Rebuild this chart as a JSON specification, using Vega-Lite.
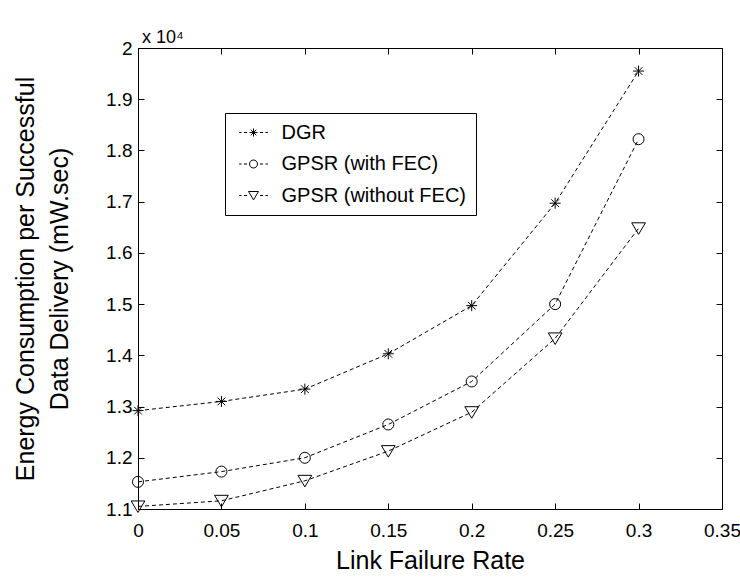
{
  "$schema": "https://vega.github.io/schema/vega-lite/v6.json",
  "width": 584,
  "height": 461,
  "autosize": "none",
  "padding": {"left": 138, "top": 48, "right": 18, "bottom": 69},
  "background": "white",
  "config": {
    "view": {"stroke": "black", "strokeWidth": 1},
    "font": "Liberation Sans",
    "axis": {
      "grid": false,
      "domain": false,
      "tickColor": "black",
      "tickSize": -6,
      "tickWidth": 1,
      "labelColor": "black",
      "titleColor": "black",
      "labelFont": "Liberation Sans",
      "labelFontSize": 19,
      "titleFont": "Liberation Sans",
      "titleFontWeight": "normal",
      "titleFontSize": 25
    }
  },
  "title": {
    "text": "x 10⁴",
    "anchor": "start",
    "frame": "group",
    "fontSize": 18,
    "fontWeight": "normal",
    "font": "Liberation Sans",
    "baseline": "alphabetic",
    "offset": -22,
    "dx": 4,
    "color": "black"
  },
  "data": {
    "values": [
      {"rate": 0, "energy": 12920, "series": "DGR"},
      {"rate": 0.05, "energy": 13100, "series": "DGR"},
      {"rate": 0.1, "energy": 13340, "series": "DGR"},
      {"rate": 0.15, "energy": 14030, "series": "DGR"},
      {"rate": 0.2, "energy": 14970, "series": "DGR"},
      {"rate": 0.25, "energy": 16970, "series": "DGR"},
      {"rate": 0.3, "energy": 19550, "series": "DGR"},
      {"rate": 0, "energy": 11530, "series": "GPSR (with FEC)"},
      {"rate": 0.05, "energy": 11730, "series": "GPSR (with FEC)"},
      {"rate": 0.1, "energy": 12000, "series": "GPSR (with FEC)"},
      {"rate": 0.15, "energy": 12650, "series": "GPSR (with FEC)"},
      {"rate": 0.2, "energy": 13490, "series": "GPSR (with FEC)"},
      {"rate": 0.25, "energy": 15000, "series": "GPSR (with FEC)"},
      {"rate": 0.3, "energy": 18220, "series": "GPSR (with FEC)"},
      {"rate": 0, "energy": 11050, "series": "GPSR (without FEC)"},
      {"rate": 0.05, "energy": 11160, "series": "GPSR (without FEC)"},
      {"rate": 0.1, "energy": 11550, "series": "GPSR (without FEC)"},
      {"rate": 0.15, "energy": 12130, "series": "GPSR (without FEC)"},
      {"rate": 0.2, "energy": 12890, "series": "GPSR (without FEC)"},
      {"rate": 0.25, "energy": 14330, "series": "GPSR (without FEC)"},
      {"rate": 0.3, "energy": 16480, "series": "GPSR (without FEC)"}
    ]
  },
  "layer": [
    {
      "mark": {"type": "line", "strokeDash": [4, 3], "strokeWidth": 1, "color": "black"},
      "encoding": {
        "x": {
          "field": "rate", "type": "quantitative",
          "scale": {"domain": [0, 0.35], "nice": false, "zero": false},
          "axis": {
            "orient": "bottom",
            "values": [0, 0.05, 0.1, 0.15, 0.2, 0.25, 0.3, 0.35],
            "labelExpr": "format(datum.value, '~g')",
            "labelPadding": 18,
            "labelFlush": false,
            "labelOverlap": false,
            "title": "Link Failure Rate",
            "titleY": 39
          }
        },
        "y": {
          "field": "energy", "type": "quantitative",
          "scale": {"domain": [11000, 20000], "nice": false, "zero": false},
          "axis": {
            "orient": "left",
            "values": [11000, 12000, 13000, 14000, 15000, 16000, 17000, 18000, 19000, 20000],
            "labelExpr": "format(datum.value / 10000, '~g')",
            "labelPadding": 12,
            "labelFlush": false,
            "labelOverlap": false,
            "title": ["Energy Consumption per Successful", "Data Delivery (mW.sec)"],
            "titleLineHeight": 34,
            "titleX": -100
          }
        },
        "detail": {"field": "series", "type": "nominal"}
      }
    },
    {
      "mark": {"type": "point", "filled": false, "color": "black", "strokeWidth": 1, "size": 121, "opacity": 1},
      "encoding": {
        "x": {"field": "rate", "type": "quantitative", "axis": null},
        "y": {"field": "energy", "type": "quantitative", "axis": null},
        "shape": {
          "field": "series", "type": "nominal",
          "scale": {
            "domain": ["DGR", "GPSR (with FEC)", "GPSR (without FEC)"],
            "range": [
              "M-1,0L1,0M0,-1L0,1M-0.7,-0.7L0.7,0.7M-0.7,0.7L0.7,-0.7",
              "circle",
              "M-1.25,-1L1.25,-1L0,1.1Z"
            ]
          },
          "legend": null
        }
      }
    },
    {
      "mark": {"type": "point", "filled": false, "color": "black", "opacity": 0},
      "encoding": {
        "x": {"field": "rate", "type": "quantitative", "axis": null},
        "y": {"field": "energy", "type": "quantitative", "axis": null},
        "shape": {
          "field": "series", "type": "nominal",
          "scale": {
            "domain": ["DGR", "GPSR (with FEC)", "GPSR (without FEC)"],
            "range": [
              "M-3.6,0L-3,0M-2.4,0L-1.6,0M1.6,0L2.4,0M3,0L3.6,0M-1,0L1,0M0,-1L0,1M-0.7,-0.7L0.7,0.7M-0.7,0.7L0.7,-0.7",
              "M-3.6,0L-3,0M-2.4,0L-1.6,0M1.6,0L2.4,0M3,0L3.6,0M1,0A1,1 0 1,1 -1,0A1,1 0 1,1 1,0",
              "M-3.6,0L-3,0M-2.4,0L-1.6,0M1.6,0L2.4,0M3,0L3.6,0M-1.25,-1L1.25,-1L0,1.1Z"
            ]
          },
          "legend": {
            "orient": "none",
            "legendX": 87,
            "legendY": 65,
            "title": null,
            "padding": 9.5,
            "strokeColor": "black",
            "fillColor": "white",
            "cornerRadius": 0,
            "labelFont": "Liberation Sans",
            "labelFontSize": 20,
            "labelColor": "black",
            "labelLimit": 400,
            "symbolSize": 64,
            "symbolOffset": 9,
            "labelOffset": 18,
            "rowPadding": 11.5,
            "symbolOpacity": 1,
            "symbolStrokeColor": "black",
            "symbolStrokeWidth": 1,
            "symbolFillColor": "transparent"
          }
        }
      }
    },
    {
      "mark": {"type": "point", "opacity": 0},
      "encoding": {
        "x": {
          "field": "rate", "type": "quantitative",
          "axis": {"orient": "top", "labels": false, "title": null, "minExtent": 0, "maxExtent": 0, "values": [0, 0.05, 0.1, 0.15, 0.2, 0.25, 0.3, 0.35]}
        },
        "y": {
          "field": "energy", "type": "quantitative",
          "axis": {"orient": "right", "labels": false, "title": null, "minExtent": 0, "maxExtent": 0, "values": [11000, 12000, 13000, 14000, 15000, 16000, 17000, 18000, 19000, 20000]}
        }
      }
    }
  ],
  "resolve": {
    "axis": {"x": "independent", "y": "independent"},
    "scale": {"shape": "independent"}
  }
}
